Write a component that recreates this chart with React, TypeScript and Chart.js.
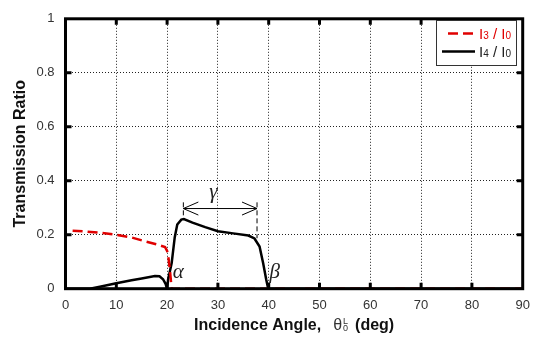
import React, { useEffect, useRef } from 'react';
import { Chart, registerables } from 'chart.js';

Chart.register(...registerables);

// ---- data ----
const angleTicks = [0, 10, 20, 30, 40, 50, 60, 70, 80, 90];
const ratioTicks = [0, 0.2, 0.4, 0.6, 0.8, 1];

const i3Angle = [1.4, 4, 7, 10, 13, 15.6, 18, 19.6, 20.0, 20.3, 20.6, 20.9, 90];
const i3Ratio = [0.215, 0.212, 0.207, 0.2, 0.19, 0.176, 0.164, 0.154, 0.14, 0.11, 0.06, 0.0, 0.0];

const i4Angle = [0, 4.8, 7, 10, 13, 15, 17.6, 18.5, 19.2, 19.7, 20.0, 20.2, 20.9, 21.5, 22.0, 22.8, 23.3, 25, 27.5, 30, 33, 36, 37.2, 38.2, 38.9, 39.5, 39.9, 90];
const i4Ratio = [0, 0, 0.008, 0.02, 0.031, 0.038, 0.047, 0.046, 0.035, 0.018, 0, 0.034, 0.095, 0.19, 0.238, 0.256, 0.258, 0.245, 0.228, 0.213, 0.205, 0.197, 0.186, 0.156, 0.095, 0.035, 0, 0];

const seriesNames = ['I3 / I0', 'I4 / I0'];
const seriesColors = ['#e00000', '#000000'];

// annotation values (data units)
const gammaStart = 23.2;
const gammaEnd = 37.7;
const gammaLevel = 0.297;
const gammaTop = 0.32;
const gammaLeftFoot = 0.26;
const gammaRightFoot = 0.187;
const gammaLabelPos = [29.1, 0.335];
const alphaLabelPos = [22.2, 0.038];
const betaLabelPos = [41.2, 0.038];

const SANS = '"Liberation Sans", Arial, sans-serif';
const NARROW = '"Liberation Sans Narrow", "Liberation Sans", Arial, sans-serif';
const SERIF = '"Liberation Serif", "DejaVu Serif", serif';

function drawRich(ctx: CanvasRenderingContext2D, parts: { t: string; f: string; dy?: number }[], x: number, y: number) {
  let cx = x;
  for (const p of parts) {
    ctx.font = p.f;
    ctx.fillText(p.t, cx, y + (p.dy || 0));
    cx += ctx.measureText(p.t).width;
  }
  return cx;
}
function richWidth(ctx: CanvasRenderingContext2D, parts: { t: string; f: string }[]) {
  let w = 0;
  for (const p of parts) {
    ctx.font = p.f;
    w += ctx.measureText(p.t).width;
  }
  return w;
}

const decorPlugin = {
  id: 'decor',
  afterDatasetsDraw(chart: any) {
    const { ctx, scales } = chart;
    const xs = scales.x, ys = scales.y;
    ctx.save();
    // gamma arrow
    const xl = xs.getPixelForValue(gammaStart);
    const xr = xs.getPixelForValue(gammaEnd);
    const yl = ys.getPixelForValue(gammaLevel);
    ctx.strokeStyle = '#000';
    ctx.lineWidth = 1;
    ctx.setLineDash([5, 3]);
    ctx.beginPath();
    ctx.moveTo(xl, ys.getPixelForValue(gammaTop));
    ctx.lineTo(xl, ys.getPixelForValue(gammaLeftFoot));
    ctx.moveTo(xr, ys.getPixelForValue(gammaTop));
    ctx.lineTo(xr, ys.getPixelForValue(gammaRightFoot));
    ctx.stroke();
    ctx.setLineDash([]);
    ctx.beginPath();
    ctx.moveTo(xl, yl);
    ctx.lineTo(xr, yl);
    ctx.moveTo(xl + 15, yl - 6.5);
    ctx.lineTo(xl, yl);
    ctx.lineTo(xl + 15, yl + 6.5);
    ctx.moveTo(xr - 15, yl - 6.5);
    ctx.lineTo(xr, yl);
    ctx.lineTo(xr - 15, yl + 6.5);
    ctx.stroke();
    // greek labels
    ctx.fillStyle = '#222';
    ctx.font = 'italic 21px ' + SERIF;
    ctx.textAlign = 'center';
    ctx.textBaseline = 'alphabetic';
    ctx.fillText('γ', xs.getPixelForValue(gammaLabelPos[0]), ys.getPixelForValue(gammaLabelPos[1]));
    ctx.fillText('α', xs.getPixelForValue(alphaLabelPos[0]), ys.getPixelForValue(alphaLabelPos[1]));
    ctx.fillText('β', xs.getPixelForValue(betaLabelPos[0]), ys.getPixelForValue(betaLabelPos[1]));
    ctx.restore();
  },
  afterDraw(chart: any) {
    const { ctx, chartArea: a, scales } = chart;
    const xs = scales.x, ys = scales.y;
    ctx.save();
    // frame
    ctx.strokeStyle = '#000';
    ctx.lineWidth = 3;
    ctx.strokeRect(a.left, a.top, a.right - a.left, a.bottom - a.top);
    // inward ticks
    ctx.beginPath();
    for (const v of angleTicks.slice(1, -1)) {
      const px = xs.getPixelForValue(v);
      ctx.moveTo(px, a.bottom);
      ctx.lineTo(px, a.bottom - 6);
      ctx.moveTo(px, a.top);
      ctx.lineTo(px, a.top + 6);
    }
    for (const v of ratioTicks.slice(1, -1)) {
      const py = ys.getPixelForValue(v);
      ctx.moveTo(a.left, py);
      ctx.lineTo(a.left + 6, py);
      ctx.moveTo(a.right, py);
      ctx.lineTo(a.right - 6, py);
    }
    ctx.stroke();

    // legend
    const bx = 436, by = 20, bw = 80, bh = 45;
    ctx.fillStyle = '#fff';
    ctx.fillRect(bx, by, bw, bh);
    ctx.lineWidth = 1;
    ctx.strokeStyle = '#333';
    ctx.strokeRect(bx + 0.5, by + 0.5, bw, bh);
    ctx.strokeStyle = seriesColors[0];
    ctx.lineWidth = 2.5;
    ctx.setLineDash([10, 5]);
    ctx.beginPath();
    ctx.moveTo(448, 33.5);
    ctx.lineTo(473, 33.5);
    ctx.stroke();
    ctx.setLineDash([]);
    ctx.strokeStyle = seriesColors[1];
    ctx.beginPath();
    ctx.moveTo(442, 51.5);
    ctx.lineTo(475, 51.5);
    ctx.stroke();
    ctx.textAlign = 'left';
    ctx.textBaseline = 'alphabetic';
    const big = '15px ' + NARROW;
    const small = '10px ' + NARROW;
    const leg = (name: string, color: string, y: number) => {
      const [num, den] = name.split(' / ');
      const parts = [
        { t: num[0], f: big },
        { t: num.slice(1), f: small },
        { t: ' / ', f: big },
        { t: den[0], f: big },
        { t: den.slice(1), f: small },
      ];
      const w = richWidth(ctx, parts);
      ctx.fillStyle = color;
      drawRich(ctx, parts, 511 - w, y);
    };
    leg(seriesNames[0], seriesColors[0], 38.5);
    leg(seriesNames[1], '#222', 56.5);

    // y title
    ctx.fillStyle = '#111';
    ctx.font = 'bold 16px ' + SANS;
    ctx.textAlign = 'center';
    ctx.save();
    ctx.translate(25, (a.top + a.bottom) / 2);
    ctx.rotate(-Math.PI / 2);
    ctx.fillText('Transmission Ratio', 0, 0);
    ctx.restore();

    // x title
    ctx.textAlign = 'left';
    const bold = 'bold 16px ' + SANS;
    const theta = '16px ' + SANS;
    const tiny = '9px ' + SANS;
    ctx.font = bold;
    const w1 = ctx.measureText('Incidence Angle,').width;
    ctx.font = theta;
    const w2 = ctx.measureText('θ').width;
    ctx.font = tiny;
    const w3 = Math.max(ctx.measureText('L').width, ctx.measureText('0').width);
    ctx.font = bold;
    const w4 = ctx.measureText('(deg)').width;
    const total = w1 + 12 + w2 + 1 + w3 + 7 + w4;
    let x = (a.left + a.right) / 2 - total / 2;
    const base = 330;
    ctx.fillStyle = '#111';
    ctx.font = bold;
    ctx.fillText('Incidence Angle,', x, base);
    x += w1 + 12;
    ctx.fillStyle = '#333';
    ctx.font = theta;
    ctx.fillText('θ', x, base);
    x += w2 + 1;
    ctx.font = tiny;
    ctx.fillText('L', x, base - 6);
    ctx.fillText('0', x, base + 1);
    x += w3 + 7;
    ctx.fillStyle = '#111';
    ctx.font = bold;
    ctx.fillText('(deg)', x, base);
    ctx.restore();
  },
};

export default function App() {
  const ref = useRef<HTMLCanvasElement | null>(null);
  useEffect(() => {
    if (!ref.current) return;
    const chart = new Chart(ref.current, {
      type: 'line',
      data: {
        datasets: [
          {
            label: seriesNames[0],
            data: i3Angle.map((x, i) => ({ x, y: i3Ratio[i] })),
            borderColor: seriesColors[0],
            borderWidth: 2.5,
            borderDash: [10, 5],
            pointRadius: 0,
            tension: 0,
            fill: false,
          },
          {
            label: seriesNames[1],
            data: i4Angle.map((x, i) => ({ x, y: i4Ratio[i] })),
            borderColor: seriesColors[1],
            borderWidth: 2.5,
            pointRadius: 0,
            tension: 0,
            fill: false,
          },
        ],
      },
      options: {
        responsive: false,
        animation: false,
        devicePixelRatio: 1,
        layout: { padding: { left: 0, top: 10.5, right: 18.3, bottom: 0 } },
        plugins: { legend: { display: false }, tooltip: { enabled: false } },
        scales: {
          x: {
            type: 'linear',
            min: 0,
            max: 90,
            afterFit: (s: any) => { s.height = 55.3; },
            afterBuildTicks: (s: any) => { s.ticks = angleTicks.map((v) => ({ value: v })); },
            ticks: { padding: 9, color: '#333', font: { family: SANS, size: 13 }, callback: (v: any) => String(v) },
            grid: { color: '#222', lineWidth: 1, drawTicks: false },
            border: { display: false, dash: [1, 2] },
          },
          y: {
            type: 'linear',
            min: 0,
            max: 1,
            afterFit: (s: any) => { s.width = 65.5; },
            afterBuildTicks: (s: any) => { s.ticks = ratioTicks.map((v) => ({ value: v })); },
            ticks: { padding: 11, color: '#333', font: { family: SANS, size: 13 }, callback: (v: any) => String(v) },
            grid: { color: '#222', lineWidth: 1, drawTicks: false },
            border: { display: false, dash: [1, 2] },
          },
        },
      },
      plugins: [decorPlugin],
    });
    return () => chart.destroy();
  }, []);
  return (
    <div style={{ position: 'absolute', left: 0, top: 0, width: 541, height: 344, background: '#fff' }}>
      <canvas ref={ref} width={541} height={344} />
    </div>
  );
}
